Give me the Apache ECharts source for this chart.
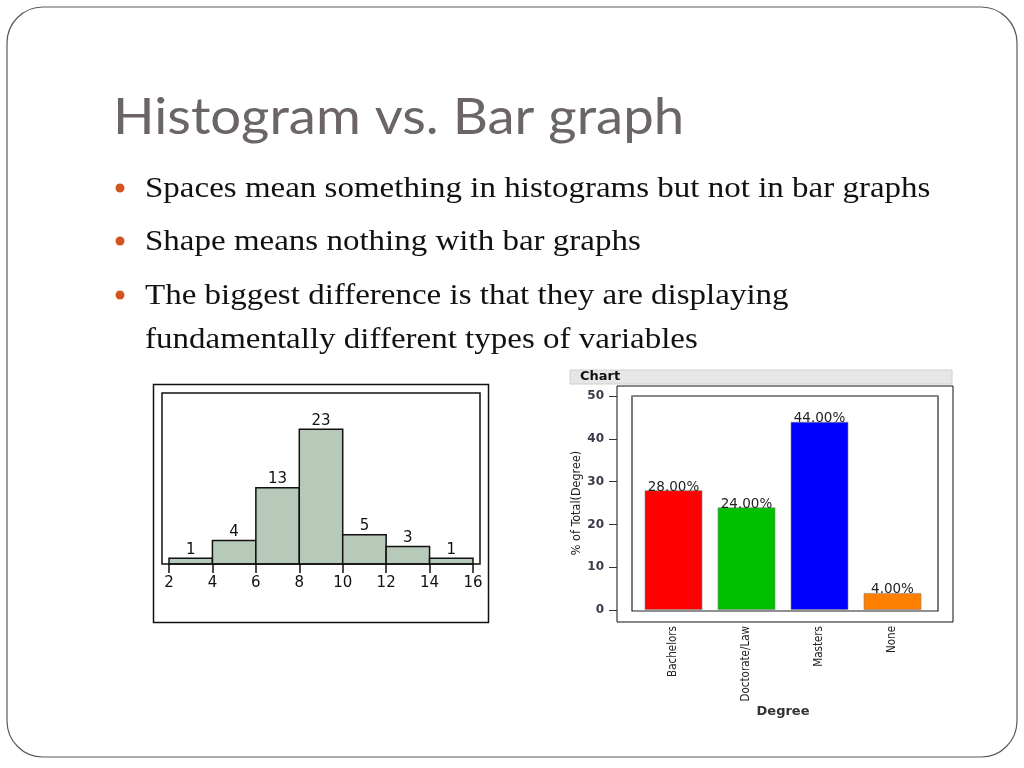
<!DOCTYPE html>
<html>
<head>
<meta charset="utf-8">
<script src="https://cdn.jsdelivr.net/npm/echarts@6/dist/echarts.min.js"></script>
<style>
html,body{margin:0;padding:0;background:#fff;}
#c{width:1024px;height:768px;}
</style>
</head>
<body>
<div id="c"></div>
<script>
// ---- data ----
const titleText = "Histogram vs. Bar graph";
const bulletLines = [
  "Spaces mean something in histograms but not in bar graphs",
  "Shape means nothing with bar graphs",
  "The biggest difference is that they are displaying",
  "fundamentally different types of variables"
];
const histEdges = [2, 4, 6, 8, 10, 12, 14, 16];
const histCounts = [1, 4, 13, 23, 5, 3, 1];
const degreeCategories = ["Bachelors", "Doctorate/Law", "Masters", "None"];
const degreePercents = [28, 24, 44, 4];
const degreeColors = ["#ff0000", "#00c000", "#0000ff", "#ff8000"];

const histData = histCounts.map((c, i) => [histEdges[i], histEdges[i + 1], c]);

const chart = echarts.init(document.getElementById('c'));

const bulletY = [189, 242, 296, 340];
const graphics = [
  {type:'rect', shape:{x:7, y:7, width:1010, height:750, r:36}, style:{fill:'none', stroke:'#5a5a5a', lineWidth:1.2}, z:0},
  {type:'text', x:113, y:118, scaleX:1.09, originX:0, originY:0, style:{text:titleText, font:'50px Lato', fill:'#6b6565', textVerticalAlign:'middle'}},
  // histogram frames
  {type:'rect', shape:{x:153.5, y:384.5, width:335, height:238}, style:{fill:'none', stroke:'#111', lineWidth:1.5}},
  {type:'rect', shape:{x:162, y:393, width:318, height:171}, style:{fill:'none', stroke:'#111', lineWidth:1.5}, z:5},
  // bar chart frames
  {type:'rect', shape:{x:570, y:370, width:382, height:14}, style:{fill:'#e6e6e6', stroke:'#d0d0d0', lineWidth:1}},
  {type:'text', x:580, y:377, style:{text:'Chart', font:'bold 13px "DejaVu Sans"', fill:'#111', textVerticalAlign:'middle'}},
  {type:'rect', shape:{x:617, y:386, width:336, height:236}, style:{fill:'none', stroke:'#111', lineWidth:1}},
  {type:'rect', shape:{x:632, y:396, width:306, height:215}, style:{fill:'none', stroke:'#222', lineWidth:1.2}, z:5},
  {type:'line', shape:{x1:632, y1:396, x2:938, y2:396}, style:{stroke:'#888', lineWidth:2}, z:6}
];
bulletLines.forEach((t, i) => {
  if (i < 3) graphics.push({type:'circle', shape:{cx:120, cy:bulletY[i] - 1, r:4.5}, style:{fill:'#d35420'}});
  graphics.push({type:'text', x:145, y:bulletY[i], scaleX:1.1, originX:0, originY:0,
    style:{text:t, font:'30px "Liberation Serif"', fill:'#111', textVerticalAlign:'middle'}});
});

chart.setOption({
  animation:false,
  graphic: graphics,
  grid:[
    {left:169, right:1024-473, top:393, bottom:768-564},
    {left:637, right:1024-929, top:396, bottom:768-610}
  ],
  xAxis:[
    {type:'value', gridIndex:0, min:2, max:16, interval:2,
     axisLine:{show:false}, splitLine:{show:false},
     axisTick:{show:true, length:9, lineStyle:{color:'#111', width:1.5}},
     axisLabel:{fontSize:15, color:'#111', margin:12, fontFamily:'DejaVu Sans'}},
    {type:'category', gridIndex:1, data:degreeCategories,
     axisLine:{show:false}, axisTick:{show:false},
     axisLabel:{rotate:90, margin:16, fontSize:11.5, color:'#222', fontFamily:'DejaVu Sans Condensed'},
     name:'Degree', nameLocation:'middle', nameGap:84,
     nameTextStyle:{fontSize:13, fontWeight:'bold', color:'#333', fontFamily:'DejaVu Sans'}}
  ],
  yAxis:[
    {type:'value', gridIndex:0, min:0, max:29.2, show:false},
    {type:'value', gridIndex:1, min:0, max:50, interval:10, offset:20,
     axisLine:{show:false}, splitLine:{show:false},
     axisTick:{show:true, length:8, lineStyle:{color:'#333'}},
     axisLabel:{fontSize:12, fontWeight:'bold', color:'#3a3a4a', margin:13, fontFamily:'DejaVu Sans'},
     name:'% of Total(Degree)', nameLocation:'middle', nameRotate:90, nameGap:33,
     nameTextStyle:{fontSize:12.5, color:'#222', fontFamily:'DejaVu Sans Condensed'}}
  ],
  series:[
    {type:'custom', xAxisIndex:0, yAxisIndex:0, data:histData,
     renderItem:function(params, api){
       const p0 = api.coord([api.value(0), api.value(2)]);
       const p1 = api.coord([api.value(1), 0]);
       return {type:'group', children:[
         {type:'rect', shape:{x:p0[0], y:p0[1], width:p1[0]-p0[0], height:p1[1]-p0[1]},
          style:{fill:'#b7c9b9', stroke:'#111', lineWidth:1.5}},
         {type:'text', x:(p0[0]+p1[0])/2, y:p0[1]-1,
          style:{text:String(api.value(2)), font:'15px "DejaVu Sans"', fill:'#111', textAlign:'center', textVerticalAlign:'bottom'}}
       ]};
     }},
    {type:'bar', xAxisIndex:1, yAxisIndex:1, barWidth:58,
     data: degreePercents.map((v, i) => ({value:v, itemStyle:{color:degreeColors[i]}})),
     itemStyle:{borderColor:'rgba(130,130,130,0.6)', borderWidth:1},
     label:{show:true, position:'top', distance:-4, fontSize:13.5, color:'#222', fontFamily:'DejaVu Sans',
            formatter: p => p.value.toFixed(2) + '%'}}
  ]
});
</script>
</body>
</html>
